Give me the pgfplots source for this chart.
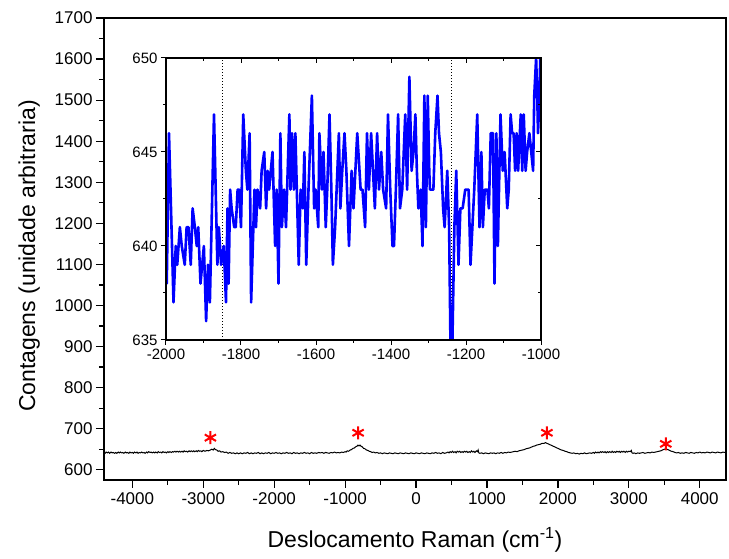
\documentclass[border=0pt]{standalone}
\usepackage{fontspec}
\setmainfont{Liberation Sans}
\usepackage{pgfplots}
\pgfplotsset{compat=1.18}
\usepackage{pgfplotstable}

\pgfplotstableread{
x y
-2000 641
-1998 638
-1992 646
-1980 637
-1974 640
-1970 639
-1963 641
-1958 640
-1950 639
-1945 641
-1940 641
-1934 639
-1929 642
-1923 641
-1918 640
-1914 641
-1908 638
-1899 640
-1893 636
-1888 639
-1883 637
-1872 647
-1863 639
-1859 641
-1853 639
-1846 640
-1840 637
-1836 642
-1833 638
-1829 643
-1825 642
-1818 641
-1814 641
-1809 643
-1805 643
-1800 641
-1794 647
-1787 644
-1783 643
-1777 646
-1773 637
-1767 641
-1764 643
-1760 641
-1756 643
-1749 642
-1745 644
-1738 645
-1733 642
-1729 644
-1725 643
-1716 645
-1709 640
-1705 643
-1700 638
-1695 646
-1691 641
-1685 643
-1680 641
-1671 647
-1668 643
-1664 646
-1659 643
-1655 646
-1646 639
-1641 643
-1635 642
-1631 645
-1626 639
-1620 643
-1611 648
-1605 642
-1601 643
-1594 641
-1591 646
-1584 643
-1580 645
-1574 641
-1570 643
-1564 647
-1559 643
-1555 639
-1549 641
-1539 646
-1535 642
-1530 644
-1524 646
-1519 644
-1512 640
-1505 644
-1500 642
-1490 646
-1481 643
-1476 643
-1469 641
-1464 646
-1459 643
-1453 646
-1448 644
-1443 642
-1437 646
-1432 643
-1426 645
-1421 643
-1413 642
-1408 647
-1402 643
-1396 640
-1392 640
-1387 643
-1381 647
-1376 642
-1370 643
-1366 645
-1362 647
-1357 643
-1351 649
-1345 644
-1340 645
-1335 647
-1331 644
-1327 642
-1321 643
-1316 640
-1311 648
-1307 641
-1302 648
-1298 644
-1296 643
-1287 643
-1282 646
-1276 648
-1272 646
-1267 645
-1261 642
-1257 641
-1250 644
-1245 641
-1241 634
-1237 634
-1231 641
-1226 644
-1220 639
-1215 642
-1209 642
-1202 643
-1193 643
-1188 639
-1183 641
-1178 643
-1170 647
-1164 641
-1159 645
-1155 641
-1150 643
-1143 643
-1139 642
-1134 646
-1128 646
-1124 638
-1119 646
-1115 640
-1108 647
-1102 644
-1097 645
-1090 642
-1086 643
-1081 647
-1077 646
-1073 646
-1069 644
-1065 646
-1061 644
-1054 647
-1050 644
-1046 647
-1041 644
-1037 645
-1031 646
-1026 645
-1021 644
-1018 648
-1013 650
-1010 648
-1008 646
-1004 648
-1000 652
}\insetdata

\pgfplotstableread{
x y
-4400 642
-4385 640
-4370 643
-4350 641
-4335 643
-4320 640
-4300 643
-4285 641
-4270 642
-4250 640
-4235 642
-4220 640
-4200 643
-4185 641
-4170 643
-4150 641
-4135 642
-4120 640
-4100 643
-4085 641
-4070 642
-4050 640
-4035 643
-4020 641
-4000 642
-3985 640
-3970 643
-3950 641
-3935 643
-3920 640
-3900 642
-3885 641
-3870 643
-3850 641
-3835 642
-3820 640
-3800 643
-3785 641
-3770 644
-3750 642
-3735 643
-3720 641
-3700 643
-3685 641
-3670 643
-3650 641
-3635 644
-3620 642
-3600 643
-3585 641
-3570 644
-3550 642
-3535 643
-3520 641
-3500 644
-3485 642
-3470 644
-3450 642
-3435 644
-3420 643
-3400 645
-3385 643
-3370 645
-3350 643
-3335 645
-3320 643
-3300 645
-3285 643
-3270 646
-3250 644
-3235 645
-3220 643
-3200 646
-3185 644
-3170 646
-3150 644
-3135 646
-3120 644
-3100 646
-3085 644
-3070 647
-3050 645
-3035 646
-3020 644
-3000 647
-2975 645
-2950 647
-2925 646
-2900 648
-2880 650
-2860 648
-2845 652
-2830 649
-2810 648
-2790 645
-2770 646
-2750 643
-2725 644
-2700 642
-2675 643
-2650 640
-2625 642
-2600 640
-2575 641
-2550 639
-2525 641
-2500 639
-2475 641
-2450 639
-2425 641
-2400 640
-2375 642
-2350 639
-2325 641
-2300 639
-2275 641
-2250 640
-2225 642
-2200 639
-2175 641
-2150 639
-2125 641
-2100 640
-2075 642
-2050 639
-2025 641
-2000 640
-1975 642
-1950 640
-1925 641
-1900 639
-1875 641
-1850 640
-1825 642
-1800 640
-1775 641
-1750 639
-1725 642
-1700 640
-1675 641
-1650 639
-1625 641
-1600 640
-1575 642
-1550 640
-1525 641
-1500 639
-1475 642
-1450 640
-1425 641
-1400 640
-1375 642
-1350 641
-1325 642
-1300 640
-1275 642
-1250 641
-1225 640
-1200 642
-1175 641
-1150 643
-1125 641
-1100 642
-1075 641
-1050 643
-1025 642
-1000 644
-985 643
-970 646
-950 645
-930 648
-910 649
-890 652
-870 653
-850 656
-835 657
-820 660
-805 658
-790 660
-775 657
-760 656
-740 652
-720 651
-700 648
-680 647
-660 645
-640 644
-620 642
-600 643
-575 641
-550 642
-525 640
-500 641
-475 639
-450 641
-425 640
-400 639
-375 641
-350 640
-325 639
-300 641
-275 640
-250 639
-225 641
-200 640
-175 639
-150 641
-125 640
-100 639
-75 641
-50 640
-25 639
0 641
25 640
50 639
75 641
100 640
125 639
150 641
175 640
200 639
225 641
250 640
275 642
300 640
325 641
350 639
375 642
400 640
425 641
450 643
465 641
480 644
500 642
515 645
530 642
550 644
565 641
580 645
600 643
615 645
630 642
650 644
665 642
680 645
700 643
715 645
730 642
750 644
765 642
780 646
800 643
815 645
830 642
850 646
865 644
875 648
885 641
900 640
925 641
950 639
975 641
1000 640
1025 639
1050 641
1075 640
1100 641
1125 639
1150 641
1175 640
1200 642
1225 640
1250 642
1275 641
1300 643
1325 642
1350 643
1375 644
1400 645
1425 644
1450 646
1475 647
1500 648
1525 649
1550 651
1575 652
1600 653
1625 655
1650 657
1675 658
1700 660
1725 661
1750 662
1775 664
1800 664
1825 666
1850 664
1875 662
1900 660
1925 658
1950 656
1975 654
2000 652
2025 650
2050 648
2075 647
2100 645
2125 644
2150 642
2175 641
2200 640
2225 641
2250 639
2275 640
2300 638
2325 640
2350 639
2375 641
2400 639
2425 640
2450 641
2475 640
2500 642
2515 640
2530 643
2550 641
2565 643
2580 641
2600 644
2615 642
2630 644
2650 642
2665 644
2680 641
2700 644
2715 642
2730 644
2750 642
2765 645
2780 642
2800 644
2815 642
2830 645
2850 643
2865 645
2880 642
2900 645
2915 643
2930 645
2950 642
2965 645
2980 643
3000 645
3020 644
3035 647
3045 641
3060 640
3075 641
3100 639
3125 641
3150 640
3175 641
3200 642
3225 640
3250 641
3275 642
3300 641
3325 643
3350 642
3375 643
3400 644
3425 645
3450 646
3475 648
3500 650
3525 651
3550 649
3575 647
3600 645
3625 644
3650 642
3675 641
3700 642
3725 640
3750 641
3775 640
3800 642
3825 641
3850 640
3875 642
3900 641
3925 640
3950 642
3975 641
4000 643
4025 641
4050 642
4075 641
4100 643
4125 642
4150 641
4175 643
4200 642
4225 641
4250 643
4275 642
4300 641
4325 643
4350 642
4370 643
}\maindata

\begin{document}
\begin{tikzpicture}
\begin{axis}[name=main, scale only axis, width=622pt, height=462pt,
  xmin=-4400, xmax=4370, ymin=575, ymax=1700,
  xtick={-4000,-3000,...,4000}, ytick={600,700,...,1700},
  minor x tick num=1, minor y tick num=1,
  tick align=outside, xtick pos=bottom, ytick pos=left,
  major tick length=8pt, minor tick length=5pt,
  axis line style={line width=1.2pt},
  every tick/.style={line width=1.2pt, black},
  tick label style={font=\fontsize{17}{20}\selectfont},
  xticklabel style={yshift=-1pt},
  /pgf/number format/assume math mode=true,
  /pgf/number format/1000 sep={},
  xlabel={Deslocamento Raman (cm\textsuperscript{-1})},
  ylabel={Contagens (unidade arbitraria)},
  label style={font=\fontsize{23}{27}\selectfont},
  xlabel style={yshift=-16pt},
  ylabel style={yshift=8pt, xshift=-7pt},
  clip=true]
\addplot[black, line width=1pt] table {\maindata};
\addplot[only marks, red, mark=asterisk, mark size=6.5pt, line width=2pt]
  coordinates {(-2900,678) (-817,690) (1845,690) (3521,663)};
\end{axis}

\begin{axis}[at={(main.south west)}, anchor=south west, xshift=62pt, yshift=140pt,
  scale only axis, width=375pt, height=282pt,
  xmin=-2000, xmax=-1000, ymin=635, ymax=650,
  xtick={-2000,-1800,...,-1000}, ytick={635,640,645,650},
  minor x tick num=1, minor y tick num=1,
  tick align=outside, xtick pos=bottom, ytick pos=left,
  major tick length=5pt, minor tick length=3pt,
  axis line style={line width=1.2pt},
  every tick/.style={line width=1pt, black},
  tick label style={font=\fontsize{15}{18}\selectfont},
  /pgf/number format/assume math mode=true,
  /pgf/number format/1000 sep={},
  axis background/.style={fill=white},
  clip=true]
\addplot[black, dotted, line width=1pt] coordinates {(-1848,635) (-1848,650)};
\addplot[black, dotted, line width=1pt] coordinates {(-1238,635) (-1238,650)};
\addplot[blue, line width=2.6pt, line join=round] table {\insetdata};
\end{axis}

\begin{axis}[at={(main.south west)}, anchor=south west, xshift=62pt, yshift=140pt,
  scale only axis, width=375pt, height=282pt,
  xmin=-2000, xmax=-1000, ymin=635, ymax=650,
  xtick={-2000,-1800,...,-1000}, ytick={635,640,645,650},
  minor x tick num=1, minor y tick num=1,
  tick align=inside, xtick pos=top, ytick pos=right,
  major tick length=5pt, minor tick length=3pt,
  axis line style={line width=1.2pt},
  every tick/.style={line width=1pt, black},
  xticklabels={}, yticklabels={}]
\end{axis}

\pgfresetboundingbox
\path ([shift={(-104pt,-79pt)}]main.south west) rectangle ++(729pt,559pt);
\end{tikzpicture}
\end{document}
